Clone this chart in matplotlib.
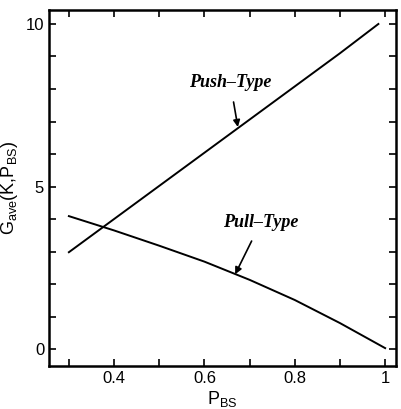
import numpy as np
import matplotlib.pyplot as plt
from matplotlib.ticker import MultipleLocator

plt.rcParams['font.family'] = ['Liberation Sans', 'DejaVu Sans']

# curves
pBS = [0.3, 0.4, 0.5, 0.6, 0.7, 0.8, 0.9, 0.985]
pushType = [2.98, 4.0, 5.02, 6.04, 7.06, 8.08, 9.1, 10.0]
pullX = [0.3, 0.4, 0.5, 0.6, 0.7, 0.8, 0.9, 1.0]
pullType = [4.09, 3.65, 3.18, 2.69, 2.13, 1.51, 0.80, 0.03]

xTicks = [0.4, 0.6, 0.8, 1.0]
xTickLabels = ['0.4', '0.6', '0.8', '1']
yTicks = [0, 5, 10]

fig = plt.figure(figsize=(4.02, 4.09), dpi=100)
ax = fig.add_axes([49 / 402, 1 - 366 / 409, (396 - 49) / 402, (366 - 10) / 409])

ax.plot(pBS, pushType, color='black', lw=1.4)
ax.plot(pullX, pullType, color='black', lw=1.4)

ax.set_xlim(0.256, 1.024)
ax.set_ylim(-0.52, 10.43)
ax.set_xticks(xTicks)
ax.set_xticklabels(xTickLabels)
ax.set_yticks(yTicks)
ax.xaxis.set_minor_locator(MultipleLocator(0.1))
ax.yaxis.set_minor_locator(MultipleLocator(1))
ax.tick_params(which='both', direction='in', top=True, right=True, width=1.2)
ax.tick_params(which='major', length=5, labelsize=12)
ax.tick_params(which='minor', length=5)
for s in ax.spines.values():
    s.set_linewidth(1.8)

ax.set_xlabel(r'P$_{\mathregular{BS}}$', fontsize=13, labelpad=2)
ax.set_ylabel(r'G$_{\mathregular{ave}}$(K,P$_{\mathregular{BS}}$)', fontsize=13, labelpad=4)

labelFont = dict(family='Liberation Serif', style='italic', weight='bold', fontsize=13)
ax.annotate('Push\u2013Type', xy=(0.674, 6.83), xytext=(0.657, 8.2),
            ha='center', va='center', **labelFont,
            arrowprops=dict(arrowstyle='-|>', color='black', lw=1.2,
                            shrinkA=6, shrinkB=0, mutation_scale=10))
ax.annotate('Pull\u2013Type', xy=(0.668, 2.3), xytext=(0.725, 3.9),
            ha='center', va='center', **labelFont,
            arrowprops=dict(arrowstyle='-|>', color='black', lw=1.2,
                            shrinkA=6, shrinkB=0, mutation_scale=10))

fig.savefig('out.png', dpi=100)
